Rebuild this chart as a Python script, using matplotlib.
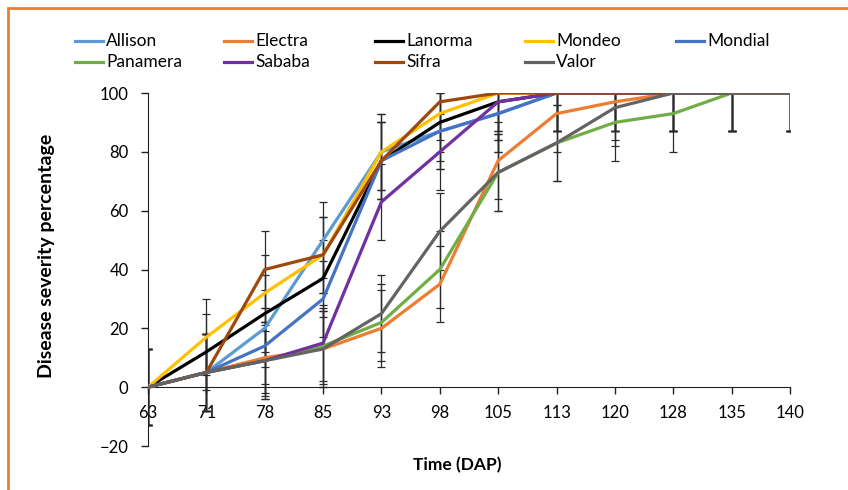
import matplotlib.pyplot as plt
from matplotlib.lines import Line2D
from matplotlib.patches import Rectangle

plt.rcParams['font.family'] = ['Lato', 'DejaVu Sans']

days = ['63', '71', '78', '85', '93', '98', '105', '113', '120', '128', '135', '140']

allison  = [0, 5, 20, 50, 80, 87, 93, 100, 100, 100, 100, 100]
electra  = [0, 5, 10, 13, 20, 35, 77, 93, 97, 100, 100, 100]
lanorma  = [0, 12, 25, 37, 77, 90, 97, 100, 100, 100, 100, 100]
mondeo   = [0, 17, 32, 45, 80, 93, 100, 100, 100, 100, 100, 100]
mondial  = [0, 5, 14, 30, 77, 87, 93, 100, 100, 100, 100, 100]
panamera = [0, 5, 9, 14, 22, 40, 73, 83, 90, 93, 100, 100]
sababa   = [0, 5, 9, 15, 63, 80, 97, 100, 100, 100, 100, 100]
sifra    = [0, 5, 40, 45, 77, 97, 100, 100, 100, 100, 100, 100]
valor    = [0, 5, 9, 13, 25, 53, 73, 83, 95, 100, 100, 100]

# error bar half widths
sd_allison  = [13, 13, 13, 13, 13, 13, 13, 13, 13, 13, 13, 13]
sd_electra  = [13, 13, 12, 13, 13, 13, 13, 13, 13, 13, 13, 13]
sd_lanorma  = [13, 13, 13, 13, 13, 13, 13, 13, 13, 13, 13, 13]
sd_mondeo   = [13, 13, 13, 13, 13, 13, 13, 13, 13, 13, 13, 13]
sd_mondial  = [13, 13, 13, 13, 13, 13, 13, 13, 13, 13, 13, 13]
sd_panamera = [13, 13, 13, 13, 13, 13, 13, 13, 13, 13, 13, 13]
sd_sababa   = [13, 13, 13, 13, 13, 13, 13, 13, 13, 13, 13, 13]
sd_sifra    = [13, 13, 13, 13, 13, 13, 13, 13, 13, 13, 13, 13]
sd_valor    = [13, 13, 12, 13, 13, 13, 13, 13, 13, 13, 13, 13]

series = [
    ('Allison', allison, sd_allison, '#5B9BD5'),
    ('Electra', electra, sd_electra, '#ED7D31'),
    ('Lanorma', lanorma, sd_lanorma, '#000000'),
    ('Mondeo', mondeo, sd_mondeo, '#FFC000'),
    ('Mondial', mondial, sd_mondial, '#4472C4'),
    ('Panamera', panamera, sd_panamera, '#70AD47'),
    ('Sababa', sababa, sd_sababa, '#7030A0'),
    ('Sifra', sifra, sd_sifra, '#9E480E'),
    ('Valor', valor, sd_valor, '#636363'),
]

W, H = 848, 490
fig = plt.figure(figsize=(W / 100, H / 100), dpi=100)
ax = fig.add_axes([148 / W, 1 - 446 / H, 642 / W, 353 / H])

x = list(range(len(days)))
for name, vals, sd, col in series:
    ax.errorbar(x, vals, yerr=sd, fmt='none', ecolor='#2a2a2a', elinewidth=0.9,
                capsize=2.6, capthick=0.9, zorder=2)
    ax.plot(x, vals, color=col, lw=2.3, label=name, zorder=3)

ax.set_xlim(0, 11)
ax.set_ylim(-20, 100)
ax.set_yticks([-20, 0, 20, 40, 60, 80, 100])
ax.set_xticks(x)
ax.set_xticklabels(days)

for s in ['top', 'right']:
    ax.spines[s].set_visible(False)
ax.spines['bottom'].set_position(('data', 0))
ax.spines['bottom'].set_color('#222222')
ax.spines['left'].set_color('#222222')
ax.tick_params(axis='both', labelsize=12, color='#222222', length=5, width=1)
ax.tick_params(axis='x', pad=8)
ax.tick_params(axis='y', pad=9)

ax.set_ylabel('Disease severity percentage', fontsize=14, fontweight='bold')
ax.yaxis.set_label_coords(-0.145, 0.54)
ax.set_xlabel('Time (DAP)', fontsize=12.5, fontweight='bold')
ax.xaxis.set_label_coords(0.481, -0.03)

# legend laid out like the Excel one: 5 evenly spaced columns, 2 rows
col_x = [75, 224, 375, 525, 676]
row_y = [41, 62]
for i, (name, vals, sd, col) in enumerate(series):
    cx = col_x[i % 5]
    ry = row_y[i // 5]
    fig.add_artist(Line2D([cx / W, (cx + 28) / W], [1 - ry / H, 1 - ry / H],
                          color=col, lw=2.3, transform=fig.transFigure))
    fig.text((cx + 31) / W, 1 - ry / H, name, fontsize=12.5, va='center', ha='left')

fig.patches.append(Rectangle((8 / W, -0.1), 1.2, 1.1 - 8 / H, transform=fig.transFigure,
                             fill=False, edgecolor='#ED7D31', lw=2))

fig.savefig('out.png', dpi=100)
